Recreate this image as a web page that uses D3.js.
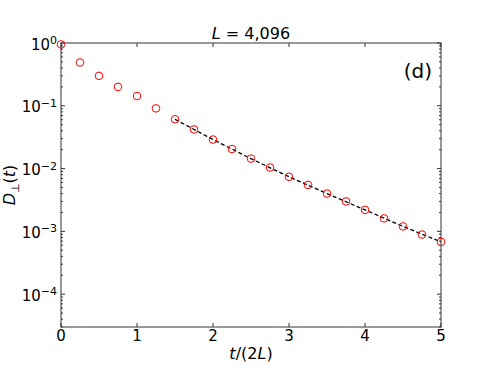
<!DOCTYPE html>
<html>
<head>
<meta charset="utf-8">
<script src="https://cdn.jsdelivr.net/npm/d3@7"></script>
<style>
  body { margin: 0; background: #fff; }
  text { font-family: "DejaVu Sans", sans-serif; fill: #000; }
</style>
</head>
<body>
<div id="chart"></div>
<script>
// data
const tValues = [0, 0.25, 0.5, 0.75, 1, 1.25, 1.5, 1.75, 2, 2.25, 2.5, 2.75, 3, 3.25, 3.5, 3.75, 4, 4.25, 4.5, 4.75, 5];
const dValues = [0.95, 0.49, 0.30, 0.20, 0.143, 0.091, 0.061, 0.042, 0.029, 0.0205, 0.0144, 0.0104, 0.0074, 0.0055, 0.0040, 0.0030, 0.0022, 0.00161, 0.0012, 0.00089, 0.00068];
const fitT = [1.5, 2, 2.5, 3, 3.5, 4, 4.5, 5];
const fitD = [0.061, 0.029, 0.0144, 0.0074, 0.0040, 0.0022, 0.0012, 0.00068];
const xTicks = [0, 1, 2, 3, 4, 5];
const yExponents = [0, -1, -2, -3, -4];

const width = 491, height = 368;
const margin = { top: 43, right: 50, bottom: 41, left: 61 };
const w = width - margin.left - margin.right;
const h = height - margin.top - margin.bottom;

const svg = d3.select('#chart').append('svg')
    .attr('width', width)
    .attr('height', height);

const g = svg.append('g')
    .attr('transform', `translate(${margin.left},${margin.top})`);

const x = d3.scaleLinear().domain([0, 5]).range([0, w]);
const y = d3.scaleLog().domain([3e-5, 1]).range([h, 0]);

// minor ticks for log axis
const minor = [];
for (let e = -5; e < 0; e++) {
    for (let k = 2; k <= 9; k++) {
        const v = k * Math.pow(10, e);
        if (v >= 3e-5 && v <= 1) minor.push(v);
    }
}

const axisColor = '#333';

// ticks pointing inward, on all four sides
const tickG = g.append('g').attr('stroke', axisColor).attr('stroke-width', 1);
xTicks.forEach(t => {
    tickG.append('line').attr('x1', x(t)).attr('x2', x(t)).attr('y1', h).attr('y2', h - 4);
    tickG.append('line').attr('x1', x(t)).attr('x2', x(t)).attr('y1', 0).attr('y2', 4);
});
yExponents.forEach(e => {
    const yy = y(Math.pow(10, e));
    tickG.append('line').attr('x1', 0).attr('x2', 4).attr('y1', yy).attr('y2', yy);
    tickG.append('line').attr('x1', w).attr('x2', w - 4).attr('y1', yy).attr('y2', yy);
});
minor.forEach(v => {
    const yy = y(v);
    tickG.append('line').attr('x1', 0).attr('x2', 2).attr('y1', yy).attr('y2', yy);
    tickG.append('line').attr('x1', w).attr('x2', w - 2).attr('y1', yy).attr('y2', yy);
});

// frame
g.append('rect')
    .attr('width', w).attr('height', h)
    .attr('fill', 'none')
    .attr('stroke', axisColor)
    .attr('stroke-width', 1);

// tick labels
g.selectAll('.xlab').data(xTicks).enter().append('text')
    .attr('class', 'xlab')
    .attr('x', d => x(d))
    .attr('y', h + 14)
    .attr('text-anchor', 'middle')
    .style('font-size', '15px')
    .text(d => d);

const ylab = g.selectAll('.ylab').data(yExponents).enter().append('text')
    .attr('class', 'ylab')
    .attr('x', -4)
    .attr('y', d => y(Math.pow(10, d)) + 6.5)
    .attr('text-anchor', 'end')
    .style('font-size', '15px');
ylab.append('tspan').text('10');
ylab.append('tspan')
    .attr('dy', -5.5)
    .style('font-size', '11px')
    .text(d => d === 0 ? '0' : '\u2212' + Math.abs(d));

// fit line
const line = d3.line().x((d, i) => x(fitT[i])).y(d => y(d));
g.append('path')
    .datum(fitD)
    .attr('d', line)
    .attr('fill', 'none')
    .attr('stroke', '#000')
    .attr('stroke-width', 1.3)
    .attr('stroke-dasharray', '4,2.5');

// data points
g.selectAll('.pt').data(dValues).enter().append('circle')
    .attr('class', 'pt')
    .attr('cx', (d, i) => x(tValues[i]))
    .attr('cy', d => y(d))
    .attr('r', 3.8)
    .attr('fill', 'none')
    .attr('stroke', '#ff0000')
    .attr('stroke-width', 1);

// title
const title = svg.append('text')
    .attr('x', margin.left + w / 2)
    .attr('y', 39)
    .attr('text-anchor', 'middle')
    .style('font-size', '16px');
title.append('tspan').style('font-style', 'italic').text('L');
title.append('tspan').text(' = 4,096');

// panel label
g.append('text')
    .attr('x', w - 9)
    .attr('y', 35)
    .attr('text-anchor', 'end')
    .style('font-size', '20px')
    .text('(d)');

// x label
const xl = svg.append('text')
    .attr('x', margin.left + w / 2)
    .attr('y', 359)
    .attr('text-anchor', 'middle')
    .style('font-size', '16px');
xl.append('tspan').style('font-style', 'italic').text('t');
xl.append('tspan').text('/(2');
xl.append('tspan').style('font-style', 'italic').text('L');
xl.append('tspan').text(')');

// y label
const yl = svg.append('text')
    .attr('transform', `translate(15,185) rotate(-90)`)
    .attr('text-anchor', 'middle')
    .style('font-size', '16px');
yl.append('tspan').style('font-style', 'italic').text('D');
yl.append('tspan').attr('dy', 4).style('font-size', '11px').text('\u22a5');
yl.append('tspan').attr('dy', -4).text('(');
yl.append('tspan').style('font-style', 'italic').text('t');
yl.append('tspan').text(')');
</script>
</body>
</html>
